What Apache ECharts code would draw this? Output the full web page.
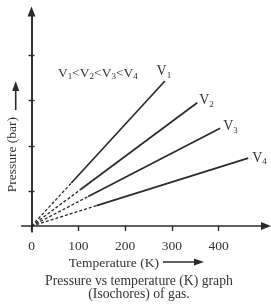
<!DOCTYPE html>
<html>
<head>
<meta charset="utf-8">
<script src="https://cdn.jsdelivr.net/npm/echarts@6/dist/echarts.min.js"></script>
<style>
html, body { margin: 0; padding: 0; background: #fff; }
#isochores { width: 271px; height: 304px; }
</style>
</head>
<body>
<div id="isochores"></div>
<script>
// isochores: P vs T at constant volume, V1 < V2 < V3 < V4
var volumes = ['1', '2', '3', '4'];
var tempBreak = [85, 104, 121, 139];        // dashed (extrapolated) part ends here
var pressBreak = [0.95, 0.80, 0.65, 0.45];
var tempEnd = [285, 354, 403, 463];
var pressEnd = [3.20, 2.72, 2.16, 1.50];
var tempTicks = [0, 100, 200, 300, 400];
var pressTicks = [0.77, 1.77, 2.77, 3.77];   // unlabelled ticks

(function(){

var chart = echarts.init(document.getElementById('isochores'));
var ink = '#2b2b2b';
var txt = '#333';
var serif = '"Liberation Serif", "Times New Roman", serif';

function sub(base, n) {
    return '{v|' + base + '}{s|' + n + '}';
}
function richV(size, subSize, subLh) {
    return {
        v: {fontSize: size, fontFamily: serif, fontWeight: 'normal', color: txt, lineHeight: size + 3},
        s: {fontSize: subSize, fontFamily: serif, fontWeight: 'normal', color: txt, lineHeight: subLh, verticalAlign: 'bottom'}
    };
}

var labelSet = [
    {position: 'top', distance: 1, offset: [-1, 0]},
    {position: 'right', distance: 2, offset: [0, -2]},
    {position: 'right', distance: 3, offset: [0, -2]},
    {position: 'right', distance: 4, offset: [0, 0]}
];

var series = [];
volumes.forEach(function(v, i){
    series.push({
        name: 'V' + v + ' extrapolated',
        type: 'line',
        symbol: 'none',
        silent: true,
        lineStyle: {color: ink, width: 1.3, type: [3, 2]},
        data: [[0, 0], [tempBreak[i], pressBreak[i]]]
    });
    series.push({
        name: 'V' + v,
        type: 'line',
        symbol: 'circle',
        symbolSize: 0,
        itemStyle: {color: ink},
        lineStyle: {color: ink, width: 1.7},
        data: [
            [tempBreak[i], pressBreak[i]],
            {
                value: [tempEnd[i], pressEnd[i]],
                label: {
                    show: true,
                    position: labelSet[i].position,
                    distance: labelSet[i].distance,
                    offset: labelSet[i].offset,
                    formatter: sub('V', v),
                    rich: richV(14, 9, 8)
                }
            }
        ]
    });
});

var order = volumes.map(function(v){ return sub('V', v); }).join('{v|<}');

option = {
    animation: false,
    backgroundColor: '#fff',
    title: [
        {
            text: order,
            left: 58,
            top: 65,
            padding: 0,
            textStyle: {fontWeight: 'normal', rich: richV(13.5, 9, 8)}
        },
        {
            text: 'Pressure vs temperature (K) graph\n(Isochores) of gas.',
            left: 139,
            top: 275,
            padding: 0,
            textAlign: 'center',
            textStyle: {fontFamily: serif, fontSize: 13.7, fontWeight: 'normal', color: txt, lineHeight: 13}
        }
    ],
    grid: {
        left: 21.7,
        right: 5,
        top: 11.5,
        bottom: 72.3,
        containLabel: false,
        outerBoundsMode: 'none'
    },
    xAxis: {
        type: 'value',
        min: -21,
        max: 501,
        splitLine: {show: false},
        axisLine: {
            onZero: true,
            symbol: ['none', 'triangle'],
            symbolSize: [8, 10],
            lineStyle: {color: ink, width: 1.6}
        },
        axisTick: {customValues: tempTicks, length: 5, lineStyle: {color: ink, width: 1.4}},
        axisLabel: {customValues: tempTicks, margin: 8, fontFamily: serif, fontSize: 13.5, color: txt},
        name: 'Temperature (K)',
        nameLocation: 'middle',
        nameGap: 25,
        nameMoveOverlap: false,
        nameTextStyle: {fontFamily: serif, fontSize: 13.5, color: txt, padding: [0, 60, 0, 0]}
    },
    yAxis: [
        {
            type: 'value',
            position: 'left',
            min: -0.125,
            max: 4.735,
            splitLine: {show: false},
            axisLine: {
                onZero: true,
                onZeroAxisIndex: 0,
                symbol: ['none', 'triangle'],
                symbolSize: [8, 10],
                lineStyle: {color: ink, width: 1.6}
            },
            axisTick: {customValues: pressTicks, length: 3, lineStyle: {color: ink, width: 1.4}},
            axisLabel: {show: false},
            name: 'Pressure (bar)',
            nameLocation: 'middle',
            nameRotate: 90,
            nameGap: 2,
            nameTextStyle: {fontFamily: serif, fontSize: 13.5, color: txt, padding: [0, 66, 0, 0]}
        },
        {
            // second copy only to make the ticks cross the axis line
            type: 'value',
            position: 'left',
            min: -0.125,
            max: 4.735,
            splitLine: {show: false},
            axisLine: {show: true, onZero: true, onZeroAxisIndex: 0, lineStyle: {color: ink, width: 1.6}},
            axisTick: {inside: true, customValues: pressTicks, length: 3, lineStyle: {color: ink, width: 1.4}},
            axisLabel: {show: false}
        }
    ],
    graphic: [
        // arrow beside the pressure title
        {type: 'line', shape: {x1: 15.7, y1: 110, x2: 15.7, y2: 89}, style: {stroke: ink, lineWidth: 1.6}, silent: true},
        {type: 'polygon', shape: {points: [[15.7, 81], [12.2, 91], [19.2, 91]]}, style: {fill: ink}, silent: true},
        // arrow beside the temperature title
        {type: 'line', shape: {x1: 163, y1: 262, x2: 196, y2: 262}, style: {stroke: ink, lineWidth: 1.6}, silent: true},
        {type: 'polygon', shape: {points: [[204, 262], [194, 258.5], [194, 265.5]]}, style: {fill: ink}, silent: true}
    ],
    series: series
};

chart.setOption(option);

})();
</script>
</body>
</html>
